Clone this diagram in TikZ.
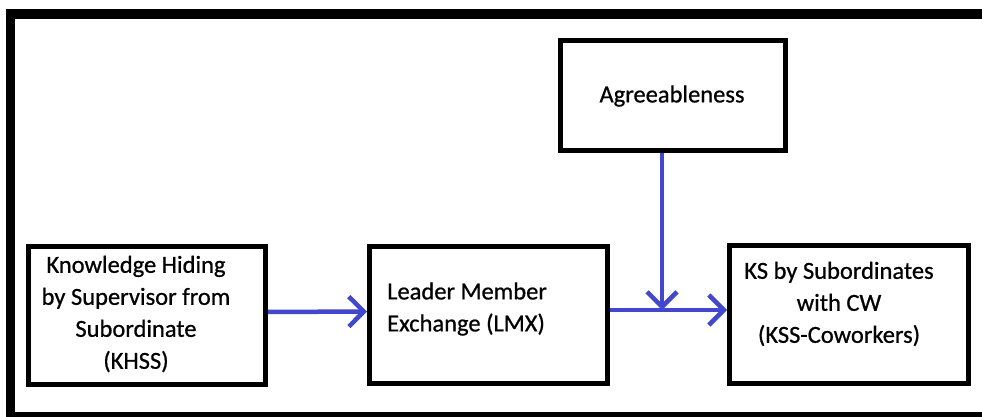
\documentclass[tikz,border=0pt]{standalone}
\usepackage{fontspec}
\setmainfont{Carlito}[FakeBold=0.7]
\usetikzlibrary{arrows.meta}
\definecolor{linkblue}{RGB}{66,72,204}
\tikzset{
  box/.style={draw=black, line width=5pt, rectangle, minimum width=#1, inner sep=0pt},
  boxtext/.style={font=\fontsize{24.5}{32}\selectfont, inner sep=0pt},
  link/.style={draw=linkblue, line width=4.5pt,
    -{Straight Barb[length=15pt,width=30pt,line width=4.5pt]}}
}
\begin{document}
\begin{tikzpicture}[x=1pt,y=-1pt]
  \clip (0,0) rectangle (982,417);
  \fill[white] (0,0) rectangle (982,417);
  % outer frame, running past the right and lower edges
  \draw[line width=9.5pt] (10.5,14) rectangle (1010,416.5);

  % boxes
  \node[box=237pt, minimum height=138pt] (khss) at (147,315.5) {};
  \node[box=238pt, minimum height=137pt] (lmx) at (488.5,315) {};
  \node[box=239pt, minimum height=138pt] (ks) at (849,314.5) {};
  \node[box=225pt, minimum height=110pt] (agree) at (673,95.5) {};

  % box texts
  \node[boxtext, align=center] (khsst) at (136,314) {Knowledge Hiding\\by Supervisor from\\Subordinate\\(KHSS)};
  \node[boxtext, align=left, anchor=west] (lmxt) at (387,309) {Leader Member\\Exchange (LMX)};
  \node[boxtext, align=center] (kst) at (839,304) {KS by Subordinates\\with CW\\(KSS-Coworkers)};
  \node[boxtext] (agreet) at (672,96) {Agreeableness};

  % connectors
  \coordinate (j) at ([xshift=-11pt]agree.south |- 0,310);
  \draw[link] ([yshift=3.5pt]khss.east) -- ([yshift=3.5pt]lmx.west);
  \draw[link] ([yshift=5pt]lmx.east) -- ([yshift=4.5pt]ks.west);
  \draw[link] ([xshift=-11pt]agree.south) -- (j);
\end{tikzpicture}
\end{document}
